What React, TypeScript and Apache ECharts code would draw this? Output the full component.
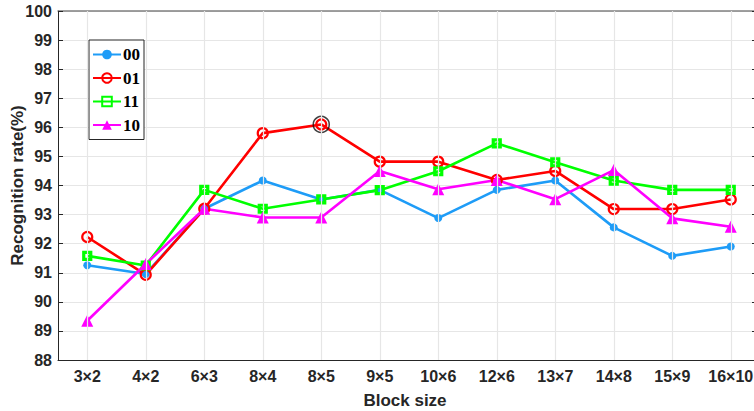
import React, { useEffect, useRef } from "react";
import * as echarts from "echarts";

const categories = ["3×2", "4×2", "6×3", "8×4", "8×5", "9×5", "10×6", "12×6", "13×7", "14×8", "15×9", "16×10"];
const s00 = [91.26, 90.96, 93.2, 94.17, 93.52, 93.85, 92.88, 93.85, 94.17, 92.56, 91.58, 91.9];
const s01 = [92.23, 90.93, 93.2, 95.8, 96.1, 94.82, 94.82, 94.19, 94.5, 93.19, 93.19, 93.52];
const s11 = [91.58, 91.25, 93.85, 93.2, 93.52, 93.84, 94.49, 95.45, 94.8, 94.17, 93.85, 93.85];
const s10 = [89.35, 91.3, 93.2, 92.9, 92.9, 94.5, 93.87, 94.19, 93.53, 94.53, 92.87, 92.58];
const highlightIndex = 4;
const yTicks = { min: 88, max: 100, interval: 1 };

export default function App() {
  const ref = useRef<HTMLDivElement>(null);
  useEffect(() => {
    if (!ref.current) return;
    const chart = echarts.init(ref.current, null, { renderer: "svg" });
    const axisFont = { fontFamily: "Liberation Sans", fontWeight: "bold" as const, fontSize: 16, color: "#262626" };
    const grid = { left: 58, top: 11, width: 702, height: 349, containLabel: false, outerBoundsMode: "none" };
    const mk = (name: string, data: number[], color: string, symbol: string, size: number, hollow: boolean, bw = 2.2) => ({
      name,
      type: "line",
      data,
      z: 3,
      symbol,
      symbolSize: size,
      showSymbol: true,
      lineStyle: { color, width: 2.6 },
      itemStyle: hollow
        ? { color: "rgba(255,255,255,0)", borderColor: color, borderWidth: bw }
        : { color, borderColor: color, borderWidth: 0 },
    });
    chart.setOption({
      animation: false,
      backgroundColor: "#ffffff",
      grid,
      legend: {
        data: ["00", "01", "11", "10"],
        orient: "vertical",
        left: 89,
        top: 40,
        itemWidth: 28,
        itemHeight: 12,
        itemGap: 6.5,
        padding: [6, 4, 6, 3],
        borderColor: "#262626",
        borderWidth: 1,
        backgroundColor: "#ffffff",
        textStyle: { fontFamily: "Liberation Serif", fontWeight: "bold", fontSize: 17, color: "#000", padding: [0, 0, 0, -3] },
      },
      xAxis: [
        {
          type: "category",
          data: categories,
          boundaryGap: true,
          name: "Block size",
          nameLocation: "middle",
          nameGap: 32,
          nameMoveOverlap: false,
          nameTextStyle: { fontFamily: "Liberation Sans", fontWeight: "bold", fontSize: 17, color: "#262626", padding: [0, 8, 0, 0] },
          axisLine: { show: true, lineStyle: { color: "#262626", width: 1 } },
          axisTick: { show: true, inside: true, alignWithLabel: true, length: 5, lineStyle: { color: "#262626" } },
          axisLabel: { ...axisFont, margin: 8, interval: 0 },
          splitLine: { show: false },
        },
        {
          type: "category",
          data: categories,
          position: "top",
          boundaryGap: true,
          axisLine: { show: true, lineStyle: { color: "#808080", width: 1.5 } },
          axisTick: { show: true, inside: true, alignWithLabel: true, length: 5, lineStyle: { color: "#262626" } },
          axisLabel: { show: false },
          splitLine: { show: false },
        },
      ],
      yAxis: [
        {
          type: "value",
          min: yTicks.min,
          max: yTicks.max,
          interval: yTicks.interval,
          name: "Recognition rate(%)",
          nameLocation: "middle",
          nameGap: 32,
          nameMoveOverlap: false,
          nameTextStyle: { fontFamily: "Liberation Sans", fontWeight: "bold", fontSize: 17, color: "#262626" },
          axisLine: { show: true, lineStyle: { color: "#262626", width: 1 } },
          axisTick: { show: true, inside: true, length: 5, lineStyle: { color: "#262626" } },
          axisLabel: { ...axisFont, margin: 6 },
          splitLine: { show: true, lineStyle: { color: "#e6e6e6", width: 1.2 } },
        },
        {
          type: "value",
          min: yTicks.min,
          max: yTicks.max,
          interval: yTicks.interval,
          position: "right",
          axisLine: { show: true, lineStyle: { color: "#808080", width: 1.5 } },
          axisTick: { show: true, inside: true, length: 8, lineStyle: { color: "#262626" } },
          axisLabel: { show: false },
          splitLine: { show: false },
        },
      ],
      series: [
        {
          name: "grid",
          type: "line",
          data: [],
          z: 1,
          silent: true,
          markLine: {
            silent: true,
            symbol: ["none", "none"],
            label: { show: false },
            lineStyle: { color: "#e6e6e6", width: 1.2, type: "solid" },
            data: categories.map((c) => ({ xAxis: c })),
          },
        },
        mk("00", s00, "#1e9cf7", "circle", 8, false),
        mk("01", s01, "#ff0000", "circle", 10, true, 2.2),
        mk("11", s11, "#00ff00", "rect", 7, true, 3.2),
        mk("10", s10, "#ff00ff", "triangle", 12, false),
        {
          name: "highlight",
          type: "scatter",
          z: 4,
          data: [[highlightIndex, s01[highlightIndex]]],
          symbol: "circle",
          symbolSize: 16,
          itemStyle: { color: "rgba(0,0,0,0)", borderColor: "#111", borderWidth: 1.5 },
        },
      ],
    });
    return () => chart.dispose();
  }, []);
  return <div ref={ref} style={{ position: "absolute", left: 0, top: 0, width: 754, height: 411 }} />;
}
